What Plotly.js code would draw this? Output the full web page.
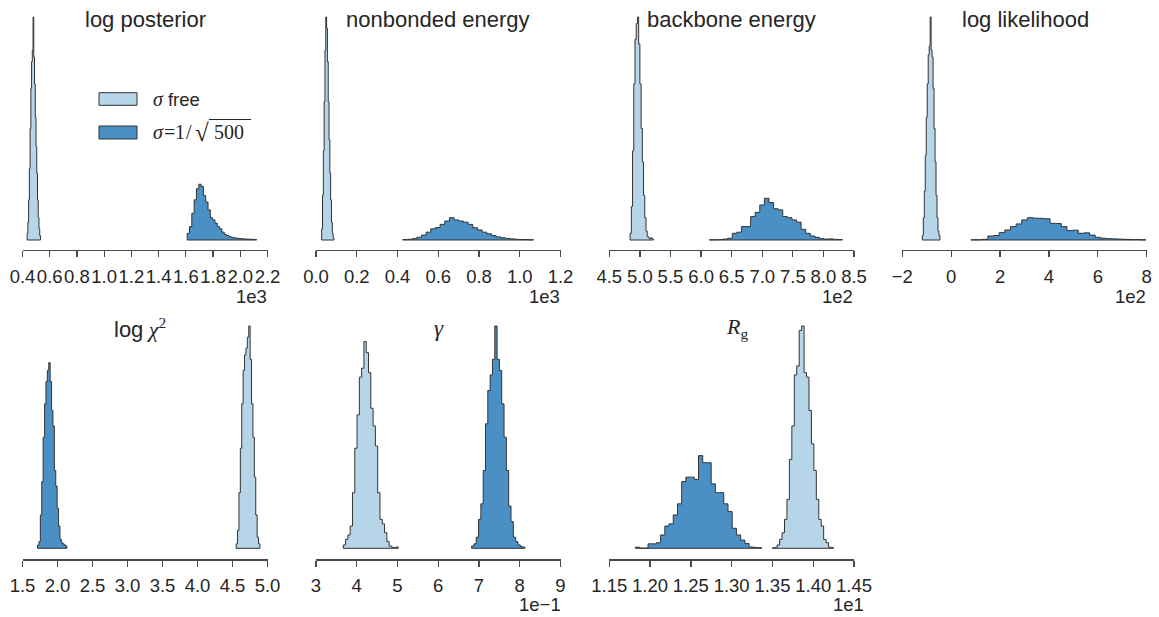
<!DOCTYPE html>
<html><head><meta charset="utf-8">
<script src="https://cdn.plot.ly/plotly-3.0.1.min.js"></script>
<style>html,body{margin:0;padding:0;background:#fff}#chart{width:1159px;height:617px}</style>
</head><body><div id="chart"></div>
<script>
// ---------------- data (histogram heights, normalised to the tallest bin in each panel) ----------------
const panelTitles = ['log posterior', 'nonbonded energy', 'backbone energy', 'log likelihood',
  '<span style="font-family:Liberation Sans">log</span> <i>χ</i><sup>2</sup>', '<i>γ</i>', '<i>R</i><sub>g</sub>'];
const seriesNames = ['σ free', 'σ = 1/√500'];
const exponentLabels = ['1e3', '1e3', '1e2', '1e2', '', '1e−1', '1e1'];

const ticks1 = [0.4, 0.6, 0.8, 1.0, 1.2, 1.4, 1.6, 1.8, 2.0, 2.2];
const tickText1 = ['0.4', '0.6', '0.8', '1.0', '1.2', '1.4', '1.6', '1.8', '2.0', '2.2'];
const ticks2 = [0.0, 0.2, 0.4, 0.6, 0.8, 1.0, 1.2];
const tickText2 = ['0.0', '0.2', '0.4', '0.6', '0.8', '1.0', '1.2'];
const ticks3 = [4.5, 5.0, 5.5, 6.0, 6.5, 7.0, 7.5, 8.0, 8.5];
const tickText3 = ['4.5', '5.0', '5.5', '6.0', '6.5', '7.0', '7.5', '8.0', '8.5'];
const ticks4 = [-2, 0, 2, 4, 6, 8];
const tickText4 = ['−2', '0', '2', '4', '6', '8'];
const ticks5 = [1.5, 2.0, 2.5, 3.0, 3.5, 4.0, 4.5, 5.0];
const tickText5 = ['1.5', '2.0', '2.5', '3.0', '3.5', '4.0', '4.5', '5.0'];
const ticks6 = [3, 4, 5, 6, 7, 8, 9];
const tickText6 = ['3', '4', '5', '6', '7', '8', '9'];
const ticks7 = [1.15, 1.20, 1.25, 1.30, 1.35, 1.40, 1.45];
const tickText7 = ['1.15', '1.20', '1.25', '1.30', '1.35', '1.40', '1.45'];

// [first bin edge, bin width] and bin heights, per panel and series
const logPosteriorFreeBins = [0.434, 0.00544];
const logPosteriorFree = [0.03, 0.08, 0.18, 0.32, 0.5, 0.68, 0.8, 0.85, 1.0, 0.82, 0.7, 0.55, 0.42, 0.3, 0.18, 0.1, 0.05, 0.02];
const logPosteriorFixedBins = [1.61, 0.017];
const logPosteriorFixed = [0.03, 0.06, 0.12, 0.18, 0.23, 0.25, 0.24, 0.2, 0.17, 0.135, 0.1, 0.09, 0.075, 0.06, 0.05,
  0.035, 0.025, 0.02, 0.015, 0.012, 0.01, 0.008, 0.007, 0.006, 0.005, 0.004, 0.004, 0.003, 0.003, 0.002];

const nonbondedFreeBins = [0.028, 0.004];
const nonbondedFree = [0.05, 0.2, 0.4, 0.62, 0.85, 1.0, 0.95, 0.8, 0.62, 0.45, 0.3, 0.18, 0.08, 0.03, 0.01];
const nonbondedFixedBins = [0.426, 0.0229];
const nonbondedFixed = [0.002, 0.003, 0.006, 0.012, 0.022, 0.035, 0.05, 0.056, 0.07, 0.085, 0.1, 0.09, 0.085, 0.08,
  0.07, 0.055, 0.045, 0.035, 0.028, 0.02, 0.014, 0.01, 0.007, 0.005, 0.003, 0.002, 0.002, 0.001];

const backboneFreeBins = [4.84, 0.02];
const backboneFree = [0.03, 0.15, 0.4, 0.7, 0.9, 0.97, 1.0, 0.88, 0.7, 0.5, 0.35, 0.2, 0.1, 0.04, 0.015, 0.01, 0.005, 0.01, 0.005];
const backboneFixedBins = [6.135, 0.075];
const backboneFixed = [0.001, 0.001, 0.002, 0.004, 0.008, 0.03, 0.035, 0.06, 0.06, 0.105, 0.124, 0.157, 0.187, 0.168,
  0.14, 0.135, 0.105, 0.1, 0.09, 0.08, 0.048, 0.03, 0.018, 0.012, 0.006, 0.004, 0.005, 0.003, 0.002];

const likelihoodFreeBins = [-1.18, 0.04];
const likelihoodFree = [0.02, 0.1, 0.22, 0.38, 0.55, 0.7, 0.83, 0.87, 1.0, 0.85, 0.82, 0.68, 0.5, 0.35, 0.2, 0.1, 0.04, 0.02];
const likelihoodFixedBins = [0.81, 0.231];
const likelihoodFixed = [0.001, 0.001, 0.003, 0.018, 0.02, 0.033, 0.045, 0.06, 0.072, 0.09, 0.1, 0.098, 0.097, 0.095,
  0.075, 0.074, 0.06, 0.042, 0.044, 0.03, 0.032, 0.022, 0.012, 0.008, 0.006, 0.005, 0.004, 0.003, 0.002, 0.002, 0.001];

const chi2FreeBins = [4.552, 0.02];
const chi2Free = [0.02, 0.08, 0.25, 0.45, 0.65, 0.8, 0.87, 0.9, 0.95, 1.0, 0.85, 0.65, 0.5, 0.32, 0.15, 0.05, 0.02];
const chi2FixedBins = [1.715, 0.02];
const chi2Fixed = [0.015, 0.03, 0.15, 0.3, 0.5, 0.65, 0.75, 0.8, 0.835, 0.75, 0.62, 0.55, 0.35, 0.28, 0.18, 0.1, 0.04,
  0.025, 0.02, 0.015, 0.01];

const gammaFreeBins = [3.67, 0.05625];
const gammaFree = [0.015, 0.04, 0.06, 0.1, 0.25, 0.45, 0.6, 0.77, 0.81, 0.93, 0.88, 0.79, 0.63, 0.55, 0.46, 0.25, 0.13,
  0.11, 0.07, 0.03, 0.01, 0.005, 0.003, 0.006];
const gammaFixedBins = [6.818, 0.0569];
const gammaFixed = [0.01, 0.02, 0.05, 0.13, 0.2, 0.35, 0.56, 0.71, 0.78, 0.85, 1.0, 0.85, 0.8, 0.65, 0.5, 0.35, 0.19,
  0.12, 0.05, 0.03, 0.015, 0.008, 0.005];

const rgFreeBins = [1.3498, 0.003];
const rgFree = [0.002, 0.004, 0.015, 0.04, 0.07, 0.13, 0.22, 0.4, 0.55, 0.78, 0.82, 0.98, 1.0, 0.79, 0.77, 0.62, 0.47,
  0.35, 0.22, 0.13, 0.1, 0.04, 0.025, 0.005, 0.004];
const rgFixedBins = [1.182, 0.00516];
const rgFixed = [0.005, 0.001, 0.001, 0.02, 0.02, 0.025, 0.06, 0.1, 0.11, 0.15, 0.2, 0.3, 0.32, 0.32, 0.31, 0.417,
  0.385, 0.385, 0.29, 0.25, 0.25, 0.2, 0.165, 0.09, 0.06, 0.037, 0.022, 0.006, 0.004, 0.003];

// ---------------- layout helpers ----------------
const W = 1159, H = 617;
const px = v => v / W, py = v => 1 - v / H;
const FREE = '#b6d5e9', FIXED = '#4a90c5', EDGE = '#333333';
const SANS = 'Liberation Sans, Arial, sans-serif';
const SERIF = 'Liberation Serif, Times New Roman, serif';
const INK = '#262626';

const panels = [
  {free: [logPosteriorFreeBins, logPosteriorFree], fixed: [logPosteriorFixedBins, logPosteriorFixed], ticks: ticks1, text: tickText1},
  {free: [nonbondedFreeBins, nonbondedFree], fixed: [nonbondedFixedBins, nonbondedFixed], ticks: ticks2, text: tickText2},
  {free: [backboneFreeBins, backboneFree], fixed: [backboneFixedBins, backboneFixed], ticks: ticks3, text: tickText3},
  {free: [likelihoodFreeBins, likelihoodFree], fixed: [likelihoodFixedBins, likelihoodFixed], ticks: ticks4, text: tickText4},
  {free: [chi2FreeBins, chi2Free], fixed: [chi2FixedBins, chi2Fixed], ticks: ticks5, text: tickText5},
  {free: [gammaFreeBins, gammaFree], fixed: [gammaFixedBins, gammaFixed], ticks: ticks6, text: tickText6},
  {free: [rgFreeBins, rgFree], fixed: [rgFixedBins, rgFixed], ticks: ticks7, text: tickText7}
];

const colL = [22.5, 316, 609.3, 902.3], colR = [267.5, 560.5, 854, 1146.7];
const rows = [{bottom: 250, zero: 240, top: 16, one: 17}, {bottom: 559.3, zero: 548.3, top: 325, one: 326}];
const exponentPos = [[269, 296], [561.7, 296], [855, 296], [1148, 296], [0, 0], [562.7, 604], [866, 604]];
const titlePos = [[145, 19, 22, SANS], [438, 19, 22, SANS], [731.7, 19, 22, SANS], [1025.5, 19, 22, SANS],
  [140, 328, 22, SERIF], [439, 328, 23, SERIF], [737, 328, 22, SERIF]];

function stepTrace(bins, counts, color, k, name) {
  const start = bins[0], width = bins[1], n = counts.length;
  const x = [start], y = [0];
  for (let i = 0; i < n; i++) { x.push(start + i * width); y.push(counts[i]); }
  x.push(start + n * width); y.push(counts[n - 1]);
  x.push(start + n * width); y.push(0);
  x.push(start); y.push(0);
  const s = k === 0 ? '' : String(k + 1);
  return {type: 'scatter', mode: 'lines', x, y, name, line: {shape: 'hv', color: EDGE, width: 1},
    fill: 'toself', fillcolor: color, xaxis: 'x' + s, yaxis: 'y' + s, hoverinfo: 'skip', showlegend: false};
}

const traces = [];
const layout = {width: W, height: H, margin: {l: 0, r: 0, t: 0, b: 0}, paper_bgcolor: '#fff', plot_bgcolor: '#fff',
  showlegend: false, annotations: [], shapes: [], font: {family: SANS, color: INK}};

panels.forEach((p, k) => {
  const col = k % 4, row = k < 4 ? 0 : 1, r = rows[row];
  const scale = r.zero - r.one;
  traces.push(stepTrace(p.free[0], p.free[1], FREE, k, seriesNames[0]));
  traces.push(stepTrace(p.fixed[0], p.fixed[1], FIXED, k, seriesNames[1]));
  const s = k === 0 ? '' : String(k + 1);
  layout['xaxis' + s] = {domain: [px(colL[col]), px(colR[col])], anchor: 'y' + s,
    range: [p.ticks[0], p.ticks[p.ticks.length - 1]], tickmode: 'array', tickvals: p.ticks, ticktext: p.text,
    showline: true, linecolor: '#4a4a4a', linewidth: 1.3, ticks: 'outside', ticklen: 6, tickwidth: 1.3, tickcolor: '#4a4a4a',
    ticklabelstandoff: 3, tickangle: 0,
    tickfont: {family: SANS, size: 18.5, color: INK}, showgrid: false, zeroline: false, fixedrange: true};
  layout['yaxis' + s] = {domain: [py(r.bottom), py(r.top)], anchor: 'x' + s,
    range: [-(r.bottom - r.zero) / scale, 1 + (r.one - r.top) / scale], visible: false, fixedrange: true};
  const t = titlePos[k];
  layout.annotations.push({text: panelTitles[k], xref: 'paper', yref: 'paper', x: px(t[0]), y: py(t[1]),
    xanchor: 'center', yanchor: 'middle', showarrow: false, font: {family: t[3], size: t[2], color: INK}});
  if (exponentLabels[k]) {
    const e = exponentPos[k];
    layout.annotations.push({text: exponentLabels[k], xref: 'paper', yref: 'paper', x: px(e[0]), y: py(e[1]),
      xanchor: 'right', yanchor: 'middle', showarrow: false, font: {family: SANS, size: 18.5, color: INK}});
  }
});

// legend (in the first panel): patches + labels
const patches = [[92.7, 105.3, FREE], [126, 139, FIXED]];
patches.forEach(l => {
  layout.shapes.push({type: 'rect', xref: 'paper', yref: 'paper', x0: px(99), x1: px(137), y0: py(l[1]), y1: py(l[0]),
    fillcolor: l[2], line: {color: EDGE, width: 1}});
});
function note(text, x, y, anchor, family, size) {
  layout.annotations.push({text, xref: 'paper', yref: 'paper', x: px(x), y: py(y), xanchor: anchor, yanchor: 'middle',
    showarrow: false, font: {family, size, color: INK}});
}
note('<i>σ</i> <span style="font-family:Liberation Sans;font-size:18.5px">free</span>', 151, 99, 'left', SERIF, 20);
note('<i>σ</i>', 151, 132, 'left', SERIF, 20);
note('=', 169.5, 132, 'center', SERIF, 20);
note('1', 180, 132, 'center', SERIF, 20);
note('/', 189, 132, 'center', SERIF, 20);
note('√', 192.5, 132, 'left', SERIF, 25);
note('500', 229, 132, 'center', SERIF, 20);
layout.shapes.push({type: 'line', xref: 'paper', yref: 'paper', x0: px(209), x1: px(251), y0: py(119.5), y1: py(119.5),
  line: {color: INK, width: 1.2}});

Plotly.newPlot('chart', traces, layout, {staticPlot: true, displayModeBar: false});
</script>
</body></html>
